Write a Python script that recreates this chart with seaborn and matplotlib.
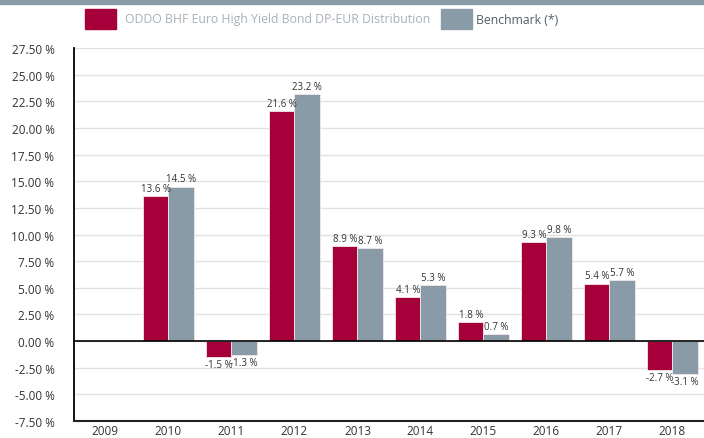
import pandas as pd
import numpy as np
import seaborn as sns
import matplotlib.pyplot as plt
from matplotlib.patches import Rectangle

# yearly performance
years = ["2009", "2010", "2011", "2012", "2013", "2014", "2015", "2016", "2017", "2018"]
fund = [np.nan, 13.6, -1.5, 21.6, 8.9, 4.1, 1.8, 9.3, 5.4, -2.7]
bench = [np.nan, 14.5, -1.3, 23.2, 8.7, 5.3, 0.7, 9.8, 5.7, -3.1]
fund_name = "ODDO BHF Euro High Yield Bond DP-EUR Distribution"
bench_name = "Benchmark (*)"
yticks = np.arange(-7.5, 27.51, 2.5)

RED = "#a6003a"
GREY = "#8a9ba8"

df = pd.DataFrame({
    "year": years * 2,
    "value": fund + bench,
    "series": [fund_name] * len(years) + [bench_name] * len(years),
})

sns.set_style("white")
plt.rcParams["font.family"] = ["Open Sans", "DejaVu Sans"]

fig = plt.figure(figsize=(7.04, 4.39), dpi=100)
ax = fig.add_axes([0.105, 0.0387, 0.895, 0.8497])

sns.barplot(data=df, x="year", y="value", hue="series", order=years,
            hue_order=[fund_name, bench_name], palette=[RED, GREY], saturation=1,
            width=0.8, edgecolor="#f3e6ec", linewidth=0.6, ax=ax, legend=False)

ax.set_ylim(-7.5, 27.5)
ax.set_xlim(-0.5, len(years) - 0.5)
ax.set_yticks(yticks)
ax.set_yticklabels([f"{t:.2f} %" for t in yticks], fontsize=8.5, color="#333333")
ax.yaxis.grid(True, color="#e2e2e2", linewidth=1)
ax.set_axisbelow(True)
ax.axhline(0, color="black", linewidth=1.2, zorder=3)
ax.tick_params(axis="y", length=12, width=1.3, color="black", pad=2)

# category separators below the axis
ax.set_xticks(np.arange(len(years)))
ax.set_xticklabels(years, fontsize=8.5, color="#333333")
ax.set_xticks(np.arange(-0.5, len(years)), minor=True)
ax.tick_params(axis="x", which="major", length=0, pad=2)
ax.tick_params(axis="x", which="minor", length=20, width=1, color="black")
ax.set_xlabel("")
ax.set_ylabel("")

for side in ["top", "right"]:
    ax.spines[side].set_visible(False)
ax.spines["left"].set_linewidth(1.3)
ax.spines["left"].set_color("black")
ax.spines["bottom"].set_linewidth(1.5)
ax.spines["bottom"].set_color("#222222")

# value labels
for cont in ax.containers:
    for bar in cont:
        h = bar.get_height()
        if np.isnan(h):
            continue
        x = bar.get_x() + bar.get_width() / 2
        ax.annotate(f"{h:.1f} %", (x, h), xytext=(0, 1.5 if h >= 0 else -1.5),
                    textcoords="offset points", ha="center",
                    va="bottom" if h >= 0 else "top", fontsize=7, color="#333333")

# top band and legend
fig.patches.append(Rectangle((0, 0.988), 1, 0.012, transform=fig.transFigure,
                             color=GREY, zorder=0))
fig.patches.append(Rectangle((85 / 704, 1 - 30 / 439), 31 / 704, 20 / 439,
                             transform=fig.transFigure, color=RED))
fig.text(125 / 704, 1 - 20 / 439, fund_name, fontsize=8.8, color="#a8b0b8", va="center")
fig.patches.append(Rectangle((441 / 704, 1 - 30 / 439), 31 / 704, 20 / 439,
                             transform=fig.transFigure, color=GREY))
fig.text(476 / 704, 1 - 20 / 439, bench_name, fontsize=8.8, color="#555d66", va="center")

fig.savefig("out.png", dpi=100)
